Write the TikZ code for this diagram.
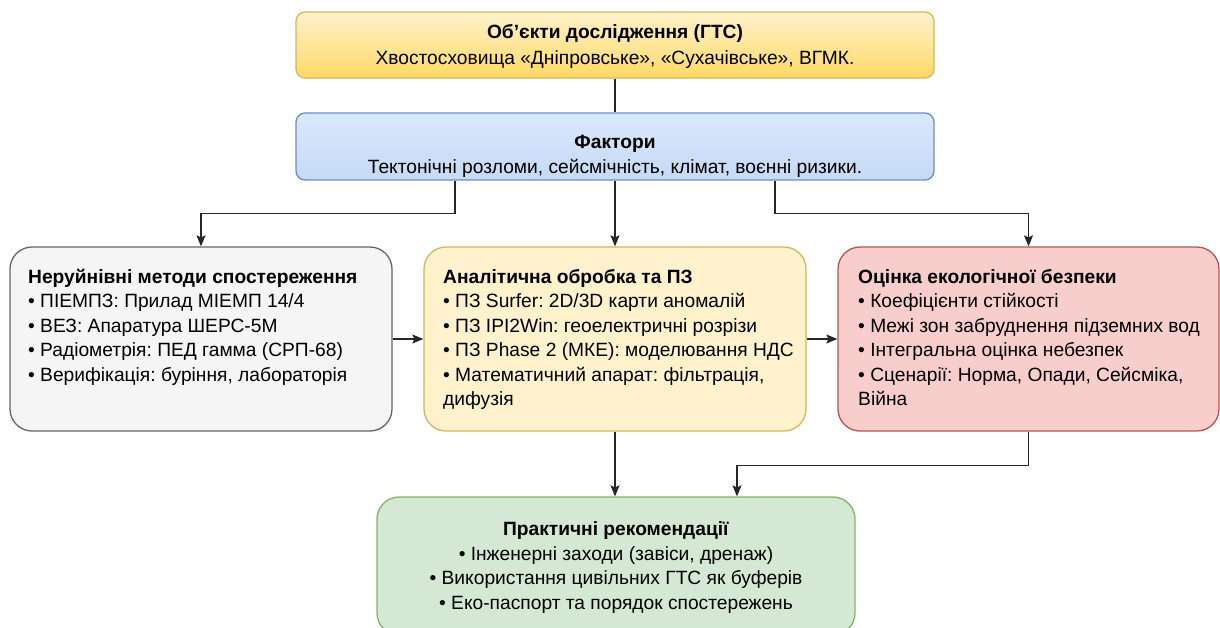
\documentclass[tikz,border=0pt]{standalone}
\usepackage{fontspec}
\setmainfont{Liberation Sans}
\usetikzlibrary{arrows.meta}
\frenchspacing
\definecolor{yelTop}{HTML}{FFF2CC}
\definecolor{yelBot}{HTML}{FFD966}
\definecolor{yelLine}{HTML}{D6B656}
\definecolor{bluTop}{HTML}{DAE8FC}
\definecolor{bluBot}{HTML}{C6DAF5}
\definecolor{bluLine}{HTML}{6C8EBF}
\definecolor{grayFill}{HTML}{F5F5F5}
\definecolor{grayLine}{HTML}{666666}
\definecolor{redFill}{HTML}{F8CECC}
\definecolor{redLine}{HTML}{B85450}
\definecolor{grnFill}{HTML}{D5E8D4}
\definecolor{grnLine}{HTML}{82B366}
\tikzset{
  boxbase/.style={rectangle, line width=1.3pt, inner sep=0pt},
  widebox/.style={boxbase, rounded corners=9pt, minimum width=638pt, minimum height=66pt},
  bigbox/.style={boxbase, rounded corners=22pt, minimum width=382pt, minimum height=184pt},
  bodytext/.style={inner sep=0pt, align=left, font=\fontsize{19.2}{24.5}\selectfont},
  ctrtext/.style={inner sep=0pt, align=center, font=\fontsize{19.2}{25}\selectfont},
  conn/.style={line width=1.3pt, draw=black!85},
  arr/.style={conn, -{Stealth[length=11pt,width=9pt,inset=2pt]}}
}
\begin{document}
\begin{tikzpicture}[x=1pt,y=-1pt]
\useasboundingbox (0,0) rectangle (1220,627);
\clip (0,0) rectangle (1220,627);

\node[widebox, draw=yelLine, top color=yelTop, bottom color=yelBot] (obj) at (615,45) {};
\node[ctrtext, font=\fontsize{19.2}{26}\selectfont] (objt) at (615,46) {\textbf{Об’єкти дослідження (ГТС)}\\Хвостосховища «Дніпровське», «Сухачівське», ВГМК.};

\node[widebox, draw=bluLine, top color=bluTop, bottom color=bluBot, minimum height=67pt] (fac) at (615,146.5) {};
\node[ctrtext] (fact) at (615,156.5) {\textbf{Фактори}\\Тектонічні розломи, сейсмічність, клімат, воєнні ризики.};

\node[bigbox, draw=grayLine, fill=grayFill] (lft) at (201,339) {};
\node[bodytext, anchor=north west] (lftt) at (28,269) {\textbf{Неруйнівні методи спостереження}\\• ПІЕМПЗ: Прилад МІЕМП 14/4\\• ВЕЗ: Апаратура ШЕРС-5М\\• Радіометрія: ПЕД гамма (СРП-68)\\• Верифікація: буріння, лабораторія};

\node[bigbox, draw=yelLine, fill=yelTop] (mid) at (615,339) {};
\node[bodytext, anchor=north west] (midt) at (443,269) {\textbf{Аналітична обробка та ПЗ}\\• ПЗ Surfer: 2D/3D карти аномалій\\• ПЗ IPI2Win: геоелектричні розрізи\\• ПЗ Phase 2 (МКЕ): моделювання НДС\\• Математичний апарат: фільтрація,\\дифузія};

\node[bigbox, draw=redLine, fill=redFill, minimum width=381pt] (rgt) at (1028.5,339) {};
\node[bodytext, anchor=north west] (rgtt) at (858,269) {\textbf{Оцінка екологічної безпеки}\\• Коефіцієнти стійкості\\• Межі зон забруднення підземних вод\\• Інтегральна оцінка небезпек\\• Сценарії: Норма, Опади, Сейсміка,\\Війна};

\node[boxbase, rounded corners=22pt, minimum width=478pt, minimum height=138pt, draw=grnLine, fill=grnFill] (bot) at (616,566) {};
\node[ctrtext, font=\fontsize{19.2}{24.5}\selectfont] (bott) at (616,567.5) {\textbf{Практичні рекомендації}\\• Інженерні заходи (завіси, дренаж)\\• Використання цивільних ГТС як буферів\\• Еко-паспорт та порядок спостережень};

\draw[conn] (obj.south) -- (fac.north);
\draw[arr] ([xshift=-160pt]fac.south) -- ++(0,33) -| (lft.north);
\draw[arr] (fac.south) -- (mid.north);
\draw[arr] ([xshift=160pt]fac.south) -- ++(0,33) -| (rgt.north);
\draw[arr] (lft.east) -- (mid.west);
\draw[arr] (mid.east) -- (rgt.west);
\draw[arr] (mid.south) -- ([xshift=-1pt]bot.north);
\draw[arr] (rgt.south) -- ++(0,34) -| ([xshift=121pt]bot.north);
\end{tikzpicture}
\end{document}
